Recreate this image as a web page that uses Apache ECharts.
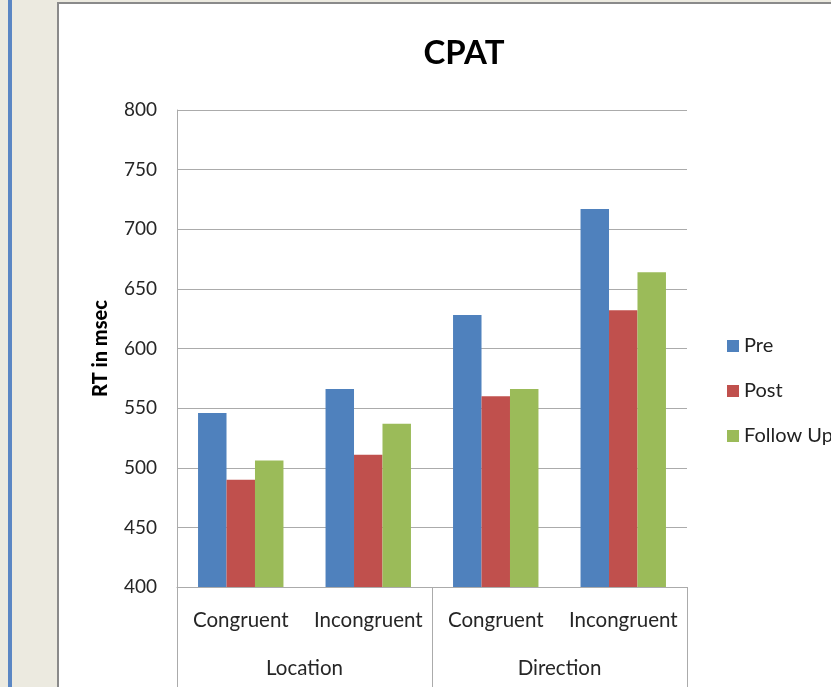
<!DOCTYPE html>
<html>
<head>
<meta charset="utf-8">
<script src="https://cdn.jsdelivr.net/npm/echarts@6/dist/echarts.min.js"></script>
<style>
html,body{margin:0;padding:0;background:#ECEAE0;}
#chart{width:831px;height:687px;}
</style>
</head>
<body>
<div id="chart"></div>
<script>
var conditions = ['Congruent', 'Incongruent', 'Congruent', 'Incongruent'];
var groups = ['Location', 'Direction'];
var seriesNames = ['Pre', 'Post', 'Follow Up'];
var pre = [546, 566, 628, 717];
var post = [490, 511, 560, 632];
var followUp = [506, 537, 566, 664];
var colors = ['#4F81BD', '#C0504D', '#9BBB59'];

var FONT = 'Lato, "Open Sans", sans-serif';
var grey = '#ABABAB';

var chart = echarts.init(document.getElementById('chart'));
var values = [pre, post, followUp];
chart.setOption({
  backgroundColor: '#ECEAE0',
  animation: false,
  textStyle: { fontFamily: FONT },
  graphic: [
    { type: 'rect', z: -10, shape: { x: 8, y: 0, width: 4, height: 687 }, style: { fill: '#5B87C4' } },
    { type: 'rect', z: -10, shape: { x: 58, y: 3, width: 800, height: 700 }, style: { fill: '#FFFFFF', stroke: '#8A8A8A', lineWidth: 2 } }
  ],
  title: {
    text: 'CPAT',
    left: 459,
    textAlign: 'center',
    top: 32,
    textStyle: { fontFamily: FONT, fontSize: 33, fontWeight: 'bold', color: '#000' }
  },
  legend: {
    orient: 'vertical',
    left: 722,
    top: 331,
    itemWidth: 12,
    itemHeight: 12,
    itemGap: 25,
    icon: 'rect',
    textStyle: { fontFamily: FONT, fontSize: 20, color: '#222', lineHeight: 20 },
    data: seriesNames
  },
  grid: { left: 177, top: 110, right: 144, bottom: 100 },
  xAxis: [
    {
      type: 'category',
      position: 'bottom',
      data: conditions,
      axisLine: { show: true, lineStyle: { color: grey, width: 1 } },
      axisTick: { show: false },
      axisLabel: { fontFamily: FONT, fontSize: 20.5, color: '#262626', margin: 23, interval: 0 }
    },
    {
      type: 'category',
      position: 'bottom',
      data: groups,
      axisLine: { show: false },
      axisTick: { show: true, length: 100, lineStyle: { color: grey, width: 1 } },
      axisLabel: { fontFamily: FONT, fontSize: 20.5, color: '#262626', margin: 71, interval: 0 }
    }
  ],
  yAxis: {
    type: 'value',
    min: 400,
    max: 800,
    interval: 50,
    name: 'RT in msec',
    nameLocation: 'middle',
    nameGap: 66,
    nameTextStyle: { fontFamily: FONT, fontSize: 20, fontWeight: 900, color: '#000' },
    axisLine: { show: true, lineStyle: { color: grey, width: 1 } },
    axisTick: { show: false },
    axisLabel: { fontFamily: FONT, fontSize: 19, color: '#262626', margin: 20 },
    splitLine: { show: true, lineStyle: { color: grey, width: 1 } }
  },
  series: seriesNames.map(function (n, i) {
    return {
      name: n,
      type: 'bar',
      xAxisIndex: 0,
      data: values[i],
      barGap: '0%',
      barCategoryGap: '33%',
      itemStyle: { color: colors[i] }
    };
  })
});
</script>
</body>
</html>
